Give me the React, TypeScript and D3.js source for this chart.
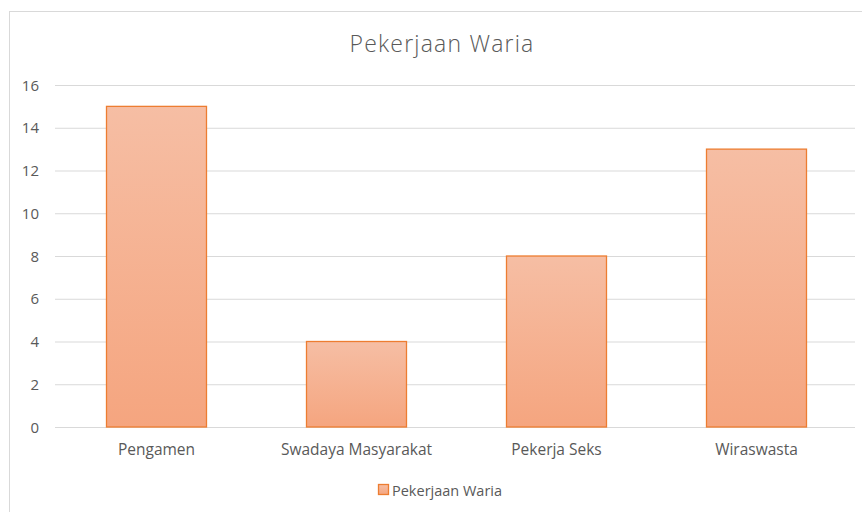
import React from 'react';
import * as d3 from 'd3';

const categories = ['Pengamen', 'Swadaya Masyarakat', 'Pekerja Seks', 'Wiraswasta'];
const values = [15, 4, 8, 13];
const yTicks = [0, 2, 4, 6, 8, 10, 12, 14, 16];
const seriesName = 'Pekerjaan Waria';
const chartTitle = 'Pekerjaan Waria';

const width = 862;
const height = 512;
const margin = { left: 55, right: 7, top: 85, bottom: 85 };
const font = '"Open Sans", Lato, sans-serif';
const textColor = '#595959';

export default function App() {
	const x = d3.scaleBand()
		.domain(categories)
		.range([margin.left + 1.5, width - margin.right + 1.5])
		.paddingInner(0.5)
		.paddingOuter(0.25);
	const y = d3.scaleLinear()
		.domain([0, 16])
		.range([height - margin.bottom, margin.top]);

	return (
		<svg width={width} height={height} style={{ position: 'absolute', left: 0, top: 0, background: '#fff' }}>
			<defs>
				<linearGradient id="barFill" x1="0" y1="0" x2="0" y2="1">
					<stop offset="0%" stopColor="#F6BEA4" />
					<stop offset="100%" stopColor="#F5A57F" />
				</linearGradient>
			</defs>
			<rect x={9.5} y={11.5} width={900} height={600} fill="#fff" stroke="#d9d9d9" />
			<text x={442} y={52} textAnchor="middle" fontFamily={font} fontWeight={300} fontSize={23} letterSpacing={1.2} fill={textColor}>{chartTitle}</text>

			{/* gridlines + y labels */}
			{yTicks.map(t => (
				<g key={t}>
					<line x1={margin.left} x2={width - margin.right} y1={y(t) + 0.5} y2={y(t) + 0.5} stroke="#d9d9d9" strokeWidth={1} />
					<text x={39} y={y(t) + 5.5} textAnchor="end" fontFamily={font} fontSize={15} fill={textColor}>{t}</text>
				</g>
			))}

			{/* bars */}
			{categories.map((c, i) => (
				<rect key={c}
					x={x(c)!}
					y={y(values[i])}
					width={x.bandwidth()}
					height={y(0) - y(values[i])}
					fill="url(#barFill)"
					stroke="#ED7D31"
					strokeWidth={1.3} />
			))}

			{/* category labels */}
			{categories.map(c => (
				<text key={c} x={x(c)! + x.bandwidth() / 2} y={455} textAnchor="middle" fontFamily={font} fontSize={15.5} fill={textColor}>{c}</text>
			))}

			{/* legend */}
			<rect x={378.5} y={484.5} width={10} height={10} fill="url(#barFill)" stroke="#ED7D31" strokeWidth={1.3} />
			<text x={392} y={496} fontFamily={font} fontSize={14.5} fill={textColor}>{seriesName}</text>
		</svg>
	);
}
